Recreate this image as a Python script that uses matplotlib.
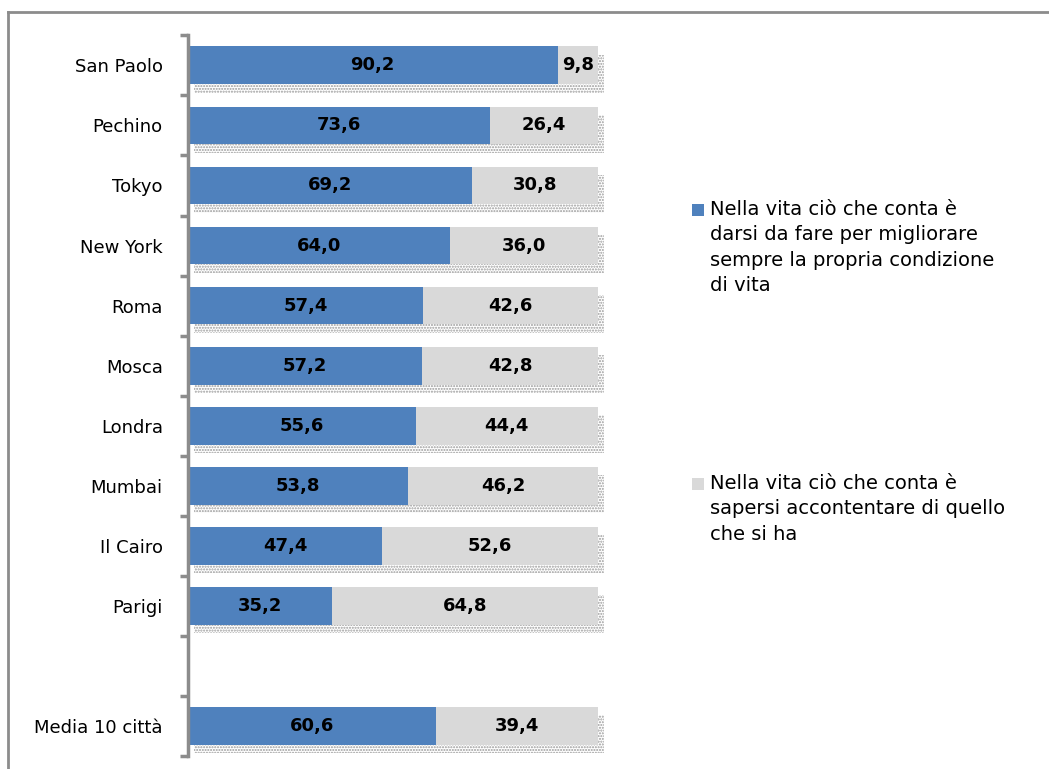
import matplotlib.pyplot as plt
from matplotlib.lines import Line2D
from matplotlib.patches import Rectangle
import numpy as np

cities = ["San Paolo", "Pechino", "Tokyo", "New York", "Roma", "Mosca",
          "Londra", "Mumbai", "Il Cairo", "Parigi", "", "Media 10 città"]
migliorare = [90.2, 73.6, 69.2, 64.0, 57.4, 57.2, 55.6, 53.8, 47.4, 35.2, np.nan, 60.6]
accontentare = [9.8, 26.4, 30.8, 36.0, 42.6, 42.8, 44.4, 46.2, 52.6, 64.8, np.nan, 39.4]

label_a = "Nella vita ciò che conta è\ndarsi da fare per migliorare\nsempre la propria condizione\ndi vita"
label_b = "Nella vita ciò che conta è\nsapersi accontentare di quello\nche si ha"

blue = "#4F81BD"
grey = "#D9D9D9"

plt.rcParams['hatch.linewidth'] = 1.0
fig = plt.figure(figsize=(10.49, 7.69), dpi=100)
ax = fig.add_axes([0.179, 0.017, 0.391, 0.937])

y = np.arange(len(cities))
a = np.array(migliorare)
b = np.array(accontentare)
ok = ~np.isnan(a)
h = 0.63

# dotted "shadow" under each bar
shadow = ax.barh(y[ok] + 0.14, a[ok] + b[ok], left=1.5, height=h, color="white",
                 hatch="......", edgecolor="#9a9a9a", linewidth=0, zorder=1)
for p in shadow:
    p.set_clip_on(False)
ax.barh(y[ok], a[ok], height=h, color=blue, zorder=2)
ax.barh(y[ok], b[ok], left=a[ok], height=h, color=grey, zorder=2)

fmt = lambda v: f"{v:.1f}".replace(".", ",")
for yi, va, vb in zip(y[ok], a[ok], b[ok]):
    ax.text(va / 2, yi, fmt(va), ha="center", va="center",
            fontsize=13, fontweight="bold", zorder=3)
    ax.text(va + vb / 2, yi, fmt(vb), ha="center", va="center",
            fontsize=13, fontweight="bold", zorder=3)

ax.set_ylim(len(cities) - 0.5, -0.5)
ax.set_xlim(0, 100)
ax.set_yticks(y)
ax.set_yticklabels(cities, fontsize=13)
ax.set_yticks(np.arange(len(cities) + 1) - 0.5, minor=True)
ax.tick_params(axis="y", which="major", length=0, pad=18)
ax.tick_params(axis="y", which="minor", length=6, width=2.5, color="#8c8c8c")
ax.set_xticks([])
for s in ["top", "right", "bottom"]:
    ax.spines[s].set_visible(False)
ax.spines["left"].set_color("#8c8c8c")
ax.spines["left"].set_linewidth(2.5)

# legend, drawn by hand so the square sits by the first line
W, H = 1049, 769
for lab, col, ytop in [(label_a, blue, 200), (label_b, grey, 474)]:
    fig.add_artist(Rectangle((692 / W, 1 - (ytop + 16) / H), 12 / W, 12 / H,
                             transform=fig.transFigure, color=col, lw=0))
    fig.text(710 / W, 1 - ytop / H, lab, ha="left", va="top",
             fontsize=14, linespacing=1.42)

# outer frame
fig.add_artist(Line2D([0.008, 1.0], [0.984, 0.984], transform=fig.transFigure,
                      color="#8c8c8c", lw=2))
fig.add_artist(Line2D([0.008, 0.008], [0.0, 0.984], transform=fig.transFigure,
                      color="#8c8c8c", lw=2))

fig.savefig("out.png", dpi=100)
